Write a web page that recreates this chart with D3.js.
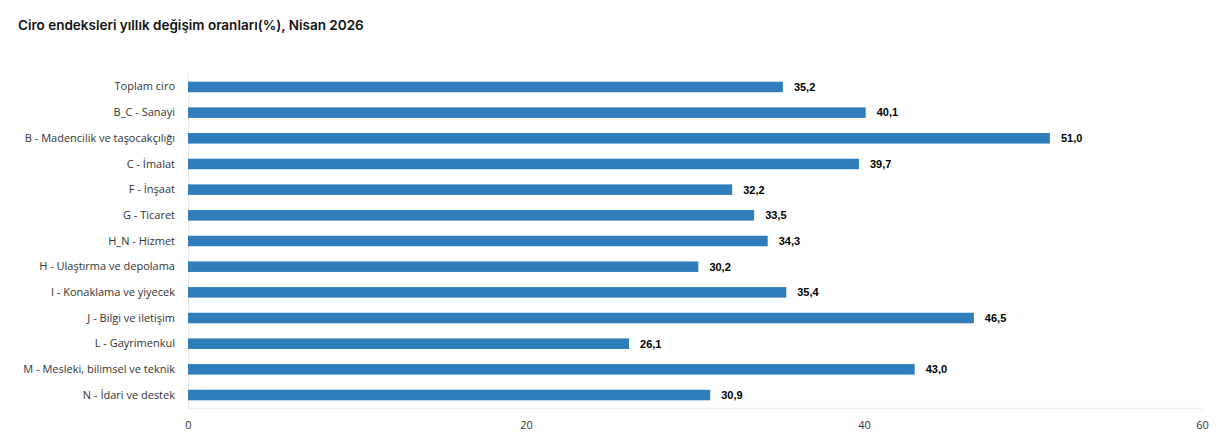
<!DOCTYPE html>
<html>
<head>
<meta charset="utf-8">
<script src="https://cdn.jsdelivr.net/npm/d3@7"></script>
<style>
body{margin:0;background:#fff;}
svg{display:block;}
</style>
</head>
<body>
<svg id="chart" width="1220" height="442"></svg>
<script>
const categories=["Toplam ciro","B_C - Sanayi","B - Madencilik ve taşocakçılığı","C - İmalat","F - İnşaat","G - Ticaret","H_N - Hizmet","H - Ulaştırma ve depolama","I - Konaklama ve yiyecek","J - Bilgi ve iletişim","L - Gayrimenkul","M - Mesleki, bilimsel ve teknik","N - İdari ve destek"];
const values=[35.2,40.1,51.0,39.7,32.2,33.5,34.3,30.2,35.4,46.5,26.1,43.0,30.9];
const xTicks=[0,20,40,60];
const title="Ciro endeksleri yıllık değişim oranları(%), Nisan 2026";

const data=categories.map((c,i)=>({cat:c,value:values[i]}));
const svg=d3.select("#chart");
const m={top:74,right:18,bottom:35,left:188};
const w=1220,h=442;

const x=d3.scaleLinear().domain([0,60]).range([m.left,w-m.right]);
const y=d3.scaleBand().domain(categories).range([m.top,h-m.bottom+1]).paddingInner(0.59).paddingOuter(0.3);

svg.append("text")
  .attr("x",18).attr("y",30)
  .attr("font-family","Inter, Roboto, sans-serif")
  .attr("font-weight",600)
  .attr("font-size","13.5px")
  .attr("fill","#111")
  .text(title);

// axis lines
svg.append("line")
  .attr("x1",m.left+0.5).attr("x2",m.left+0.5)
  .attr("y1",m.top-1).attr("y2",h-m.bottom+1)
  .attr("stroke","#e3e9f0");
svg.append("line")
  .attr("x1",m.left).attr("x2",w-m.right)
  .attr("y1",h-m.bottom+1.5).attr("y2",h-m.bottom+1.5)
  .attr("stroke","#eeeeee").attr("stroke-width",1.5);

svg.selectAll(".bar")
  .data(data)
  .enter().append("rect")
  .attr("class","bar")
  .attr("x",x(0))
  .attr("y",d=>y(d.cat))
  .attr("width",d=>x(d.value)-x(0))
  .attr("height",y.bandwidth())
  .attr("fill","#2f7dba");

svg.selectAll(".val")
  .data(data)
  .enter().append("text")
  .attr("class","val")
  .attr("x",d=>x(d.value)+11)
  .attr("y",d=>y(d.cat)+y.bandwidth()/2)
  .attr("dy","0.35em")
  .attr("font-family","'Liberation Sans', Arial, sans-serif")
  .attr("font-weight","bold")
  .attr("font-size","11px")
  .attr("fill","#000")
  .text(d=>d3.format(".1f")(d.value).replace(".",","));

const yAxis=svg.append("g")
  .attr("transform",`translate(${m.left},0)`)
  .call(d3.axisLeft(y).tickSize(0).tickPadding(13));
yAxis.select(".domain").remove();
yAxis.selectAll("text")
  .attr("font-family","'Open Sans', 'Noto Sans', sans-serif")
  .attr("font-size","11px")
  .attr("fill","#333");

const xAxis=svg.append("g")
  .attr("transform",`translate(0,${h-m.bottom})`)
  .call(d3.axisBottom(x).tickValues(xTicks).tickSize(0).tickPadding(14));
xAxis.select(".domain").remove();
xAxis.selectAll("text")
  .attr("font-family","'Open Sans', 'Noto Sans', sans-serif")
  .attr("font-size","11px")
  .attr("fill","#333");
</script>
</body>
</html>
